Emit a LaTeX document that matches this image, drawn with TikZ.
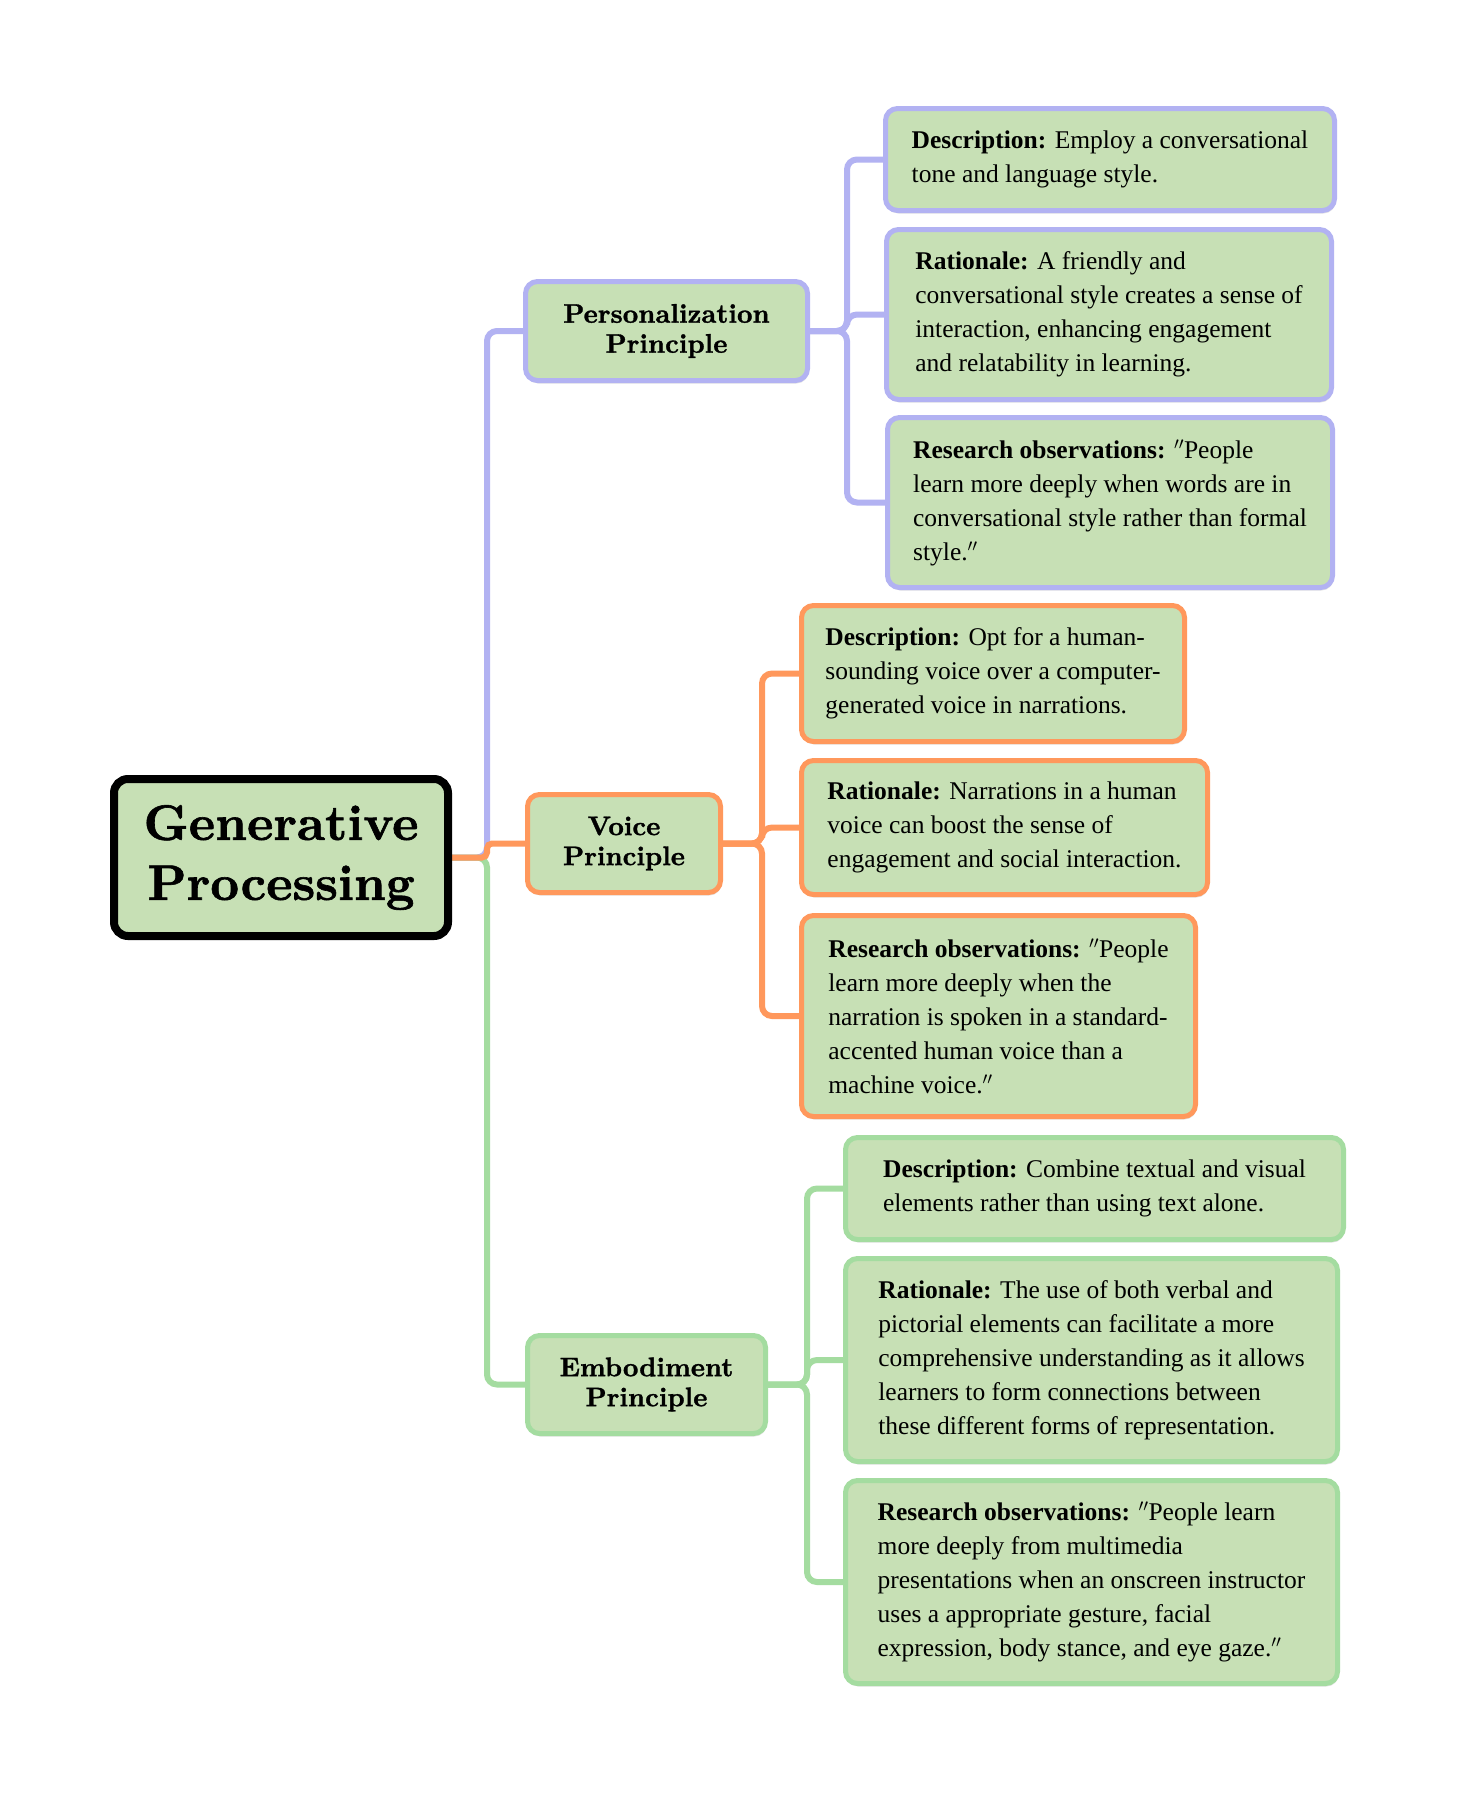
\documentclass[tikz,border=0pt]{standalone}
\usepackage{fontspec}
\newfontfamily\bodyfont{Liberation Serif}
\newfontfamily\titlefont{lmroman10-bold}[Extension=.otf, FakeBold=1.2]
\usetikzlibrary{shadows}
\pgfdeclarelayer{background}
\pgfsetlayers{background,main}
\definecolor{boxfill}{RGB}{199,224,181}
\definecolor{lpurple}{RGB}{178,178,242}
\definecolor{lorange}{RGB}{255,152,92}
\definecolor{lgreen}{RGB}{164,220,160}
\newcommand{\dq}{${}^{\prime\prime}$}
\tikzset{
  base/.style={fill=boxfill, rounded corners=12pt, inner sep=0pt, align=left,
    font=\bodyfont\fontsize{25.5}{34}\selectfont,
    drop shadow={opacity=0.22, shadow xshift=1pt, shadow yshift=-3pt}},
  title/.style={base, align=center, font=\titlefont\fontsize{26.9}{30}\selectfont},
  pbox/.style={draw=lpurple, line width=5pt},
  obox/.style={draw=lorange, line width=5pt},
  gbox/.style={draw=lgreen, line width=5pt},
  rootbox/.style={base, draw=black, line width=8pt, rounded corners=14pt, align=center,
    font=\titlefont\fontsize{50}{60}\selectfont},
  pline/.style={draw=lpurple, line width=6pt, rounded corners=10pt},
  oline/.style={draw=lorange, line width=6pt, rounded corners=10pt},
  gline/.style={draw=lgreen, line width=6pt, rounded corners=10pt},
}
\begin{document}
\begin{tikzpicture}[x=1pt,y=-1pt]
\useasboundingbox (0,0) rectangle (1456,1801);

% root
\node[rootbox, minimum width=334pt, minimum height=157pt] (root) at (281,857.5) {Generative\\Processing};

% principles
\node[title, pbox, minimum width=282pt, minimum height=99pt] (pers) at (666.5,331) {Personalization\\Principle};
\node[title, obox, minimum width=193pt, minimum height=98pt] (voice) at (624,843.5) {Voice\\Principle};
\node[title, gbox, minimum width=238pt, minimum height=98pt] (emb) at (646.5,1384.5) {Embodiment\\Principle};

% personalization children
\node[base, pbox, minimum width=449pt, minimum height=102pt] (pd) at (1110,159.5)
  {\textbf{Description:} Employ a conversational\\tone and language style.};
\node[base, pbox, minimum width=445pt, minimum height=170pt] (pr) at (1109,314.5)
  {\textbf{Rationale:} A friendly and\\conversational style creates a sense of\\interaction, enhancing engagement\\and relatability in learning.};
\node[base, pbox, minimum width=445pt, minimum height=170pt] (po) at (1110,502.5)
  {\textbf{Research observations:} \dq People\\learn more deeply when words are in\\conversational style rather than formal\\style.\dq};

% voice children
\node[base, obox, minimum width=383pt, minimum height=136pt] (vd) at (993,673.5)
  {\textbf{Description:} Opt for a human-\\sounding voice over a computer-\\generated voice in narrations.};
\node[base, obox, minimum width=406pt, minimum height=134pt] (vr) at (1004.5,827.5)
  {\textbf{Rationale:} Narrations in a human\\voice can boost the sense of\\engagement and social interaction.};
\node[base, obox, minimum width=394pt, minimum height=201pt] (vo) at (998.5,1016)
  {\textbf{Research observations:} \dq People\\learn more deeply when the\\narration is spoken in a standard-\\accented human voice than a\\machine voice.\dq};

% embodiment children
\node[base, gbox, minimum width=498pt, minimum height=102pt] (ed) at (1094.5,1188.5)
  {\textbf{Description:} Combine textual and visual\\elements rather than using text alone.};
\node[base, gbox, minimum width=492pt, minimum height=203pt] (er) at (1091.5,1360)
  {\textbf{Rationale:} The use of both verbal and\\pictorial elements can facilitate a more\\comprehensive understanding as it allows\\learners to form connections between\\these different forms of representation.};
\node[base, gbox, minimum width=492pt, minimum height=203pt] (eo) at (1091.5,1582)
  {\textbf{Research observations:} \dq People learn\\more deeply from multimedia\\presentations when an onscreen instructor\\uses a appropriate gesture, facial\\expression, body stance, and eye gaze.\dq};

% junction coordinates
\coordinate (trunk) at (487,857.5);
\coordinate (pj) at (847,331);
\coordinate (vj) at (762,843.5);
\coordinate (ej) at (807,1384.5);

\begin{pgfonlayer}{background}
  \fill[white] (0,0) rectangle (1456,1801);
  \draw[pline] (root.east) -- (trunk) |- (pers.west);
  \draw[gline] (root.east) -- (trunk) |- (emb.west);
  \draw[oline, rounded corners=5pt] (root.east) -- (trunk) |- (voice.west);

  \draw[pline] (pers.east) -- (pj) |- (pd.west);
  \draw[pline] (pers.east) -- (pj) |- (pr.west);
  \draw[pline] (pers.east) -- (pj) |- (po.west);

  \draw[oline] (voice.east) -- (vj) |- (vd.west);
  \draw[oline] (voice.east) -- (vj) |- (vr.west);
  \draw[oline] (voice.east) -- (vj) |- (vo.west);

  \draw[gline] (emb.east) -- (ej) |- (ed.west);
  \draw[gline] (emb.east) -- (ej) |- (er.west);
  \draw[gline] (emb.east) -- (ej) |- (eo.west);
\end{pgfonlayer}
\end{tikzpicture}
\end{document}
